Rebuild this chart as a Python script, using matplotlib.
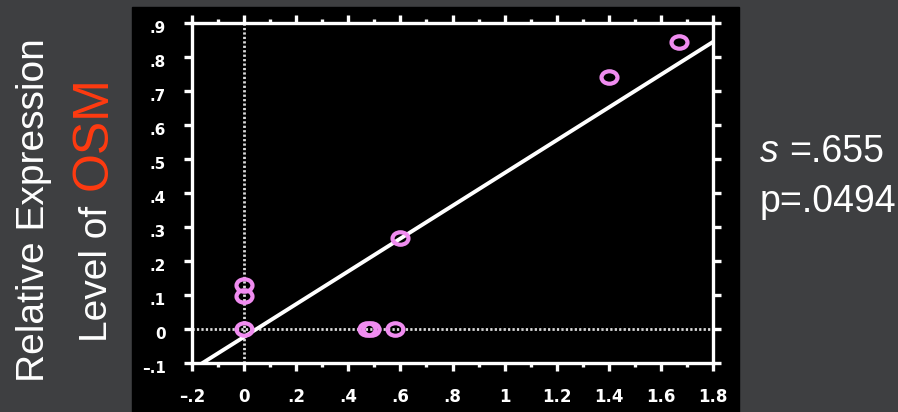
import matplotlib
matplotlib.use("Agg")
import matplotlib.pyplot as plt
import matplotlib.transforms as mtransforms
from matplotlib.path import Path
from matplotlib.markers import MarkerStyle
from matplotlib.patches import Rectangle
import numpy as np

# data
osm_x = [0.0, 0.0, 0.0, 0.47, 0.488, 0.58, 0.6, 1.4, 1.67]
osm_y = [0.0, 0.095, 0.13, 0.0, 0.0, 0.0, 0.267, 0.741, 0.844]
fit_slope = 0.482
fit_intercept = -0.024

x_ticks = [-0.2, 0.0, 0.2, 0.4, 0.6, 0.8, 1.0, 1.2, 1.4, 1.6, 1.8]
x_labels = ['\u2013.2', '0', '.2', '.4', '.6', '.8', '1', '1.2', '1.4', '1.6', '1.8']
y_ticks = [-0.1, 0.0, 0.1, 0.2, 0.3, 0.4, 0.5, 0.6, 0.7, 0.8, 0.9]
y_labels = ['\u2013.1', '0', '.1', '.2', '.3', '.4', '.5', '.6', '.7', '.8', '.9']

W, H = 898, 412
fig = plt.figure(figsize=(W / 100, H / 100), dpi=100)
fig.patch.set_facecolor('#3e3f41')

# black slide panel behind the plot
fig.add_artist(Rectangle((132 / W, 0), (739 - 132) / W, (H - 7) / H,
                         transform=fig.transFigure, color='black', zorder=0))

ax = fig.add_axes([192 / W, 1 - 362.7 / H, (713 - 192) / W, (362.7 - 22.7) / H])
ax.set_facecolor('black')
ax.set_xlim(-0.2, 1.8)
ax.set_ylim(-0.1, 0.9)

for s in ax.spines.values():
    s.set_color('white')
    s.set_linewidth(2.4)

ax.set_xticks(x_ticks)
ax.set_xticklabels(x_labels)
ax.set_xticks(np.arange(-0.1, 1.8, 0.2), minor=True)
ax.set_yticks(y_ticks)
ax.set_yticklabels(y_labels)

ax.tick_params(which='both', direction='out', color='white', width=2.4,
               top=True, right=True, labelcolor='white')
ax.tick_params(which='major', length=6)
ax.tick_params(which='minor', length=3)
ax.tick_params(axis='x', pad=12, labelsize=12)
ax.tick_params(axis='y', pad=13, labelsize=11)
for lab in ax.get_xticklabels() + ax.get_yticklabels():
    lab.set_fontweight('bold')

# nudge y labels a little below their ticks like the original
offset = mtransforms.ScaledTranslation(0, -3 / 72, fig.dpi_scale_trans)
for lab in ax.get_yticklabels():
    lab.set_transform(lab.get_transform() + offset)

# dotted zero lines
ax.axhline(0, color='#dddddd', lw=2.0, ls=(0, (0.8, 0.8)), zorder=1)
ax.axvline(0, color='#dddddd', lw=2.0, ls=(0, (0.8, 0.8)), zorder=1)

# regression line
xl = np.array(ax.get_xlim())
ax.plot(xl, fit_intercept + fit_slope * xl, color='white', lw=2.8, zorder=2)

# slightly flattened circle markers
ell = Path.unit_circle().transformed(mtransforms.Affine2D().scale(1, 0.78))
ax.plot(osm_x, osm_y, ls='none', marker=MarkerStyle(ell), ms=11.5,
        mfc='none', mec='#f08cf0', mew=3.0, zorder=3)

sans = 'Liberation Sans'
fig.text(44 / W, 30 / H, 'Relative Expression', rotation=90, rotation_mode='anchor',
         ha='left', va='baseline', fontsize=28, color='white', family=sans)
fig.text(107 / W, 70 / H, 'Level of', rotation=90, rotation_mode='anchor',
         ha='left', va='baseline', fontsize=28, color='white', family=sans)
fig.text(107 / W, 222 / H, 'OSM', rotation=90, rotation_mode='anchor',
         ha='left', va='baseline', fontsize=36, color='#ff3a10', family=sans)

fig.text(760 / W, (H - 162) / H, 's', style='italic', ha='left', va='baseline',
         fontsize=27, color='white', family=sans)
fig.text(789 / W, (H - 162) / H, '=.655', ha='left', va='baseline',
         fontsize=27, color='white', family=sans)
fig.text(760 / W, (H - 211.7) / H, 'p=.0494', ha='left', va='baseline',
         fontsize=27, color='white', family=sans)

fig.savefig('out.png', dpi=100, facecolor=fig.get_facecolor())
